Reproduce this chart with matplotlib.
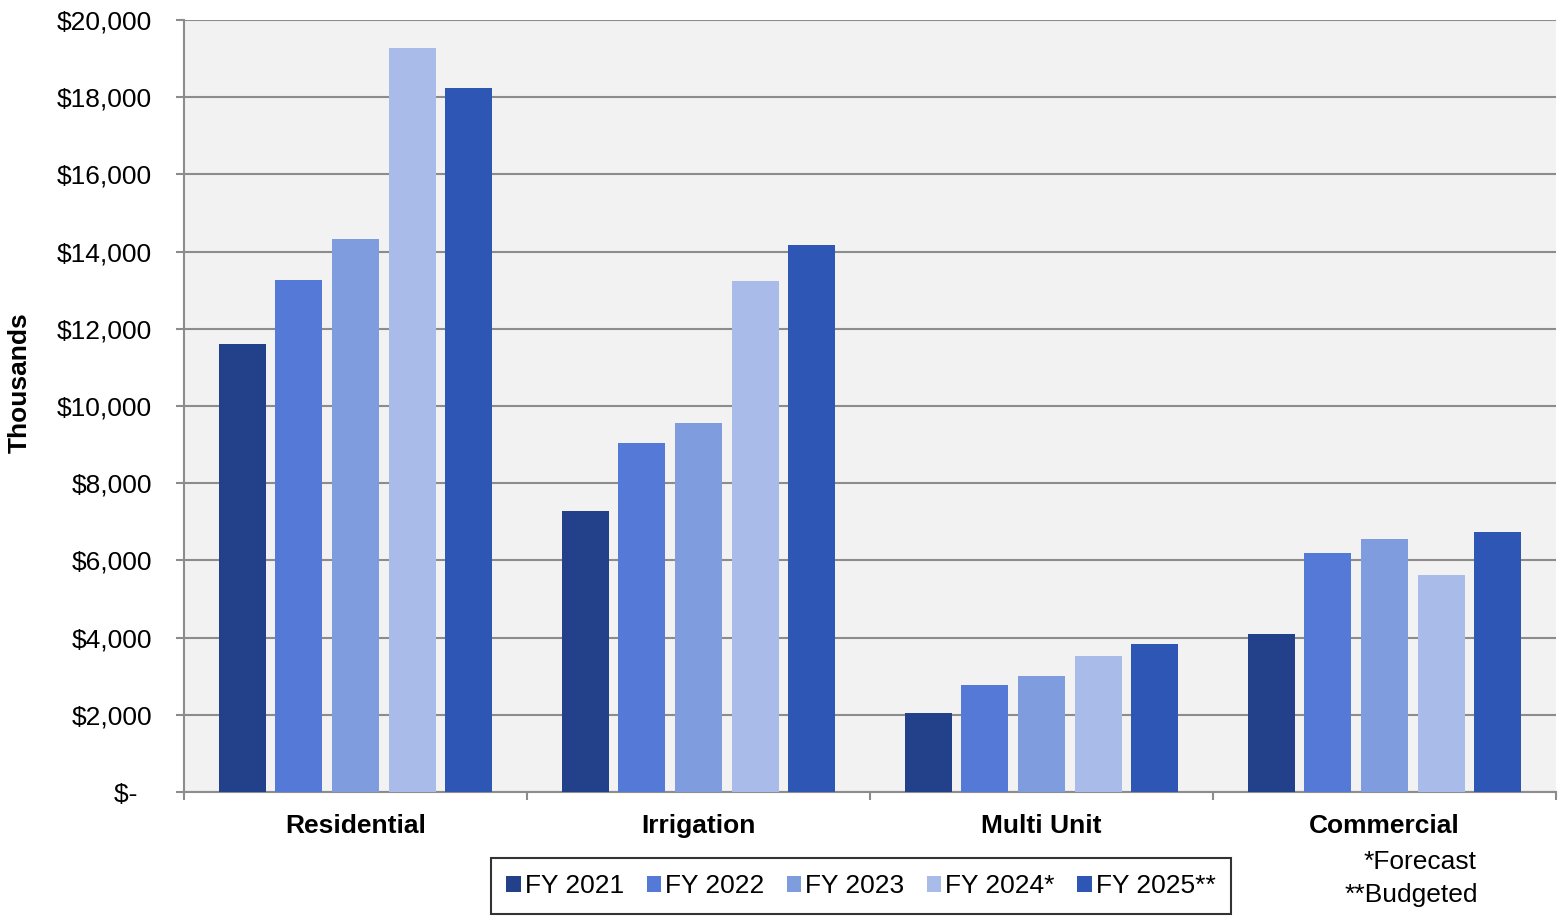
import numpy as np
import matplotlib.pyplot as plt
from matplotlib.ticker import FuncFormatter, FixedLocator

plt.rcParams['font.family'] = ['Liberation Sans', 'DejaVu Sans']

# data (thousands of dollars)
categories = ['Residential', 'Irrigation', 'Multi Unit', 'Commercial']
series = ['FY 2021', 'FY 2022', 'FY 2023', 'FY 2024*', 'FY 2025**']
fy2021 = [11600, 7270, 2050, 4090]
fy2022 = [13270, 9040, 2770, 6190]
fy2023 = [14330, 9560, 3010, 6550]
fy2024 = [19270, 13240, 3520, 5620]
fy2025 = [18240, 14170, 3830, 6740]
colors = ['#23418A', '#5479D6', '#7F9CDF', '#A9BBE8', '#2E56B4']

values = [fy2021, fy2022, fy2023, fy2024, fy2025]

fig = plt.figure(figsize=(15.62, 9.17), dpi=100)
ax = fig.add_axes([0.1178, 0.1363, 0.8784, 0.8419])
ax.set_facecolor('#F2F2F2')

x = np.arange(len(categories))
width = 0.137
step = 0.165
for i, (vals, col, name) in enumerate(zip(values, colors, series)):
    ax.bar(x + (i - 2) * step, vals, width, color=col, label=name, zorder=3)

ax.set_xlim(-0.5, len(categories) - 0.5)
ax.set_ylim(0, 20000)
ax.set_yticks(np.arange(0, 20001, 2000))
ax.yaxis.set_major_formatter(FuncFormatter(lambda v, p: '$-  ' if v == 0 else '${:,.0f}'.format(v)))
ax.grid(axis='y', color='#8C8C8C', linewidth=1.5, zorder=0)

ax.set_xticks(x)
ax.set_xticklabels(categories, fontsize=19, fontweight='bold')
ax.tick_params(axis='x', length=0, pad=16)
ax.xaxis.set_minor_locator(FixedLocator(np.arange(-0.5, len(categories), 1)))
ax.tick_params(axis='x', which='minor', length=6, color='#8C8C8C', width=1.5)
ax.tick_params(axis='y', labelsize=19, length=6, color='#8C8C8C', width=1.5, pad=17)

for s in ['top', 'right']:
    ax.spines[s].set_visible(False)
for s in ['left', 'bottom']:
    ax.spines[s].set_color('#8C8C8C')
    ax.spines[s].set_linewidth(1.5)

ax.set_ylabel('Thousands', fontsize=19, fontweight='bold')
ax.yaxis.set_label_coords(-0.1108, 0.5298)

leg = ax.legend(loc='center', bbox_to_anchor=(0.4934, -0.1218), ncol=5, fontsize=19,
                frameon=True, fancybox=False, edgecolor='black',
                handlelength=0.55, handleheight=0.55, handletextpad=0.15,
                columnspacing=0.85, borderpad=0.6)
leg.get_frame().set_linewidth(1.5)

fig.text(0.9455, 0.060, '*Forecast', ha='right', va='center', fontsize=19)
fig.text(0.9462, 0.024, '**Budgeted', ha='right', va='center', fontsize=19)

fig.savefig('out.png', dpi=100)
